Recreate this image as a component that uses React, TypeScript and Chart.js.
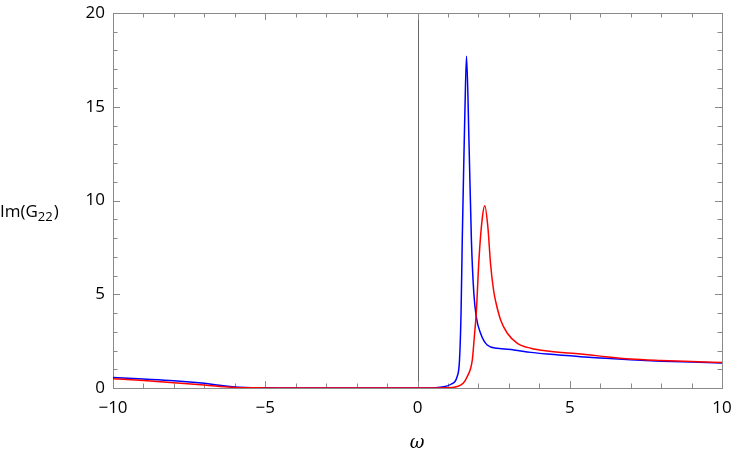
import React, { useEffect, useRef } from "react";
import { Chart, registerables } from "chart.js";

Chart.register(...registerables);

const redX = [-10, -9, -8, -7, -6, -5, -4, 0, 1, 1.3, 1.5, 1.63, 1.8, 1.87, 1.93, 2.02, 2.13, 2.21, 2.31, 2.4, 2.5, 2.57, 2.73, 2.95, 3.28, 3.72, 4.27, 5.36, 6, 7, 8, 9, 10];
const redY = [0.49, 0.4, 0.28, 0.16, 0.03, 0.005, 0, 0, 0.01, 0.08, 0.25, 0.6, 1.5, 2.8, 4.0, 6.9, 9.1, 9.72, 8.6, 6.6, 5.2, 4.6, 3.63, 2.92, 2.38, 2.12, 1.97, 1.81, 1.7, 1.55, 1.47, 1.41, 1.36];

const blueX = [-10, -9, -8, -7, -6.5, -6, -5, -4, 0, 0.6, 0.86, 1.1, 1.3, 1.38, 1.43, 1.47, 1.52, 1.56, 1.61, 1.69, 1.77, 1.85, 1.93, 2.07, 2.29, 2.62, 3.17, 3.72, 4.27, 5.36, 6, 7, 8, 9, 10];
const blueY = [0.56, 0.48, 0.39, 0.25, 0.15, 0.06, 0.01, 0, 0, 0.02, 0.07, 0.2, 0.6, 1.5, 4.0, 7.9, 12, 15, 17.7, 13.2, 7.9, 5.05, 3.8, 2.92, 2.29, 2.12, 2.03, 1.9, 1.81, 1.67, 1.6, 1.5, 1.43, 1.38, 1.33];

const xTicks = [-10, -5, 0, 5, 10];
const yTicks = [0, 5, 10, 15, 20];

const FONT = '"Open Sans", sans-serif';
const FRAME = "#8a8a8a";

const toPts = (xs: number[], ys: number[]) => xs.map((x, i) => ({ x, y: ys[i] }));
const fmt = (v: number) => (v < 0 ? "\u2212" + Math.abs(v) : String(v));

const framePlugin = {
  id: "framePlugin",
  beforeDatasetsDraw(chart: any) {
    const { ctx, chartArea: a, scales } = chart;
    const xs = scales.x;
    const ys = scales.y;
    ctx.save();
    ctx.strokeStyle = "#666";
    ctx.lineWidth = 1;
    const x0 = Math.round(xs.getPixelForValue(0)) + 0.5;
    ctx.beginPath();
    ctx.moveTo(x0, a.top);
    ctx.lineTo(x0, a.bottom);
    ctx.stroke();
    ctx.strokeStyle = FRAME;
    ctx.strokeRect(Math.round(a.left) + 0.5, Math.round(a.top) + 0.5, Math.round(a.right - a.left), Math.round(a.bottom - a.top));
    ctx.beginPath();
    for (let v = -10; v <= 10; v++) {
      const len = v % 5 === 0 ? 7 : 4.5;
      const px = Math.round(xs.getPixelForValue(v)) + 0.5;
      ctx.moveTo(px, a.bottom);
      ctx.lineTo(px, a.bottom - len);
      ctx.moveTo(px, a.top);
      ctx.lineTo(px, a.top + len);
    }
    for (let v = 0; v <= 20; v++) {
      const len = v % 5 === 0 ? 7 : 4.5;
      const py = Math.round(ys.getPixelForValue(v)) + 0.5;
      ctx.moveTo(a.left, py);
      ctx.lineTo(a.left + len, py);
      ctx.moveTo(a.right, py);
      ctx.lineTo(a.right - len, py);
    }
    ctx.stroke();
    ctx.restore();
  },
  afterDraw(chart: any) {
    const { ctx } = chart;
    ctx.save();
    ctx.fillStyle = "#000";
    ctx.textBaseline = "alphabetic";
    ctx.textAlign = "left";
    ctx.font = `17px ${FONT}`;
    let x = 0;
    const base = 217;
    ctx.fillText("Im(G", x, base);
    x += ctx.measureText("Im(G").width;
    ctx.font = `13px ${FONT}`;
    ctx.fillText("22", x, base + 4);
    x += ctx.measureText("22").width + 1;
    ctx.font = `17px ${FONT}`;
    ctx.fillText(")", x, base);
    ctx.font = `italic 18px "DejaVu Serif", serif`;
    ctx.textAlign = "center";
    ctx.fillText("\u03c9", 417, 448);
    ctx.restore();
  },
};

export default function App() {
  const ref = useRef<HTMLCanvasElement>(null);
  useEffect(() => {
    if (!ref.current) return;
    const chart = new Chart(ref.current, {
      type: "line",
      data: {
        datasets: [
          {
            label: "red",
            data: toPts(redX, redY),
            borderColor: "#ff0000",
            borderWidth: 1.5,
            pointRadius: 0,
            fill: false,
            cubicInterpolationMode: "monotone",
          },
          {
            label: "blue",
            data: toPts(blueX, blueY),
            borderColor: "#0000ff",
            borderWidth: 1.5,
            pointRadius: 0,
            fill: false,
            cubicInterpolationMode: "monotone",
          },
        ],
      },
      options: {
        responsive: false,
        animation: false,
        layout: { padding: { left: 0, right: 11, top: 13, bottom: 0 } },
        plugins: { legend: { display: false }, tooltip: { enabled: false } },
        scales: {
          x: {
            type: "linear",
            min: -10,
            max: 10,
            afterBuildTicks: (s: any) => {
              s.ticks = xTicks.map((v) => ({ value: v }));
            },
            afterFit: (s: any) => {
              s.height = 73;
              s.paddingLeft = 0;
              s.paddingRight = 0;
            },
            grid: { display: false, drawTicks: false },
            border: { display: false },
            ticks: {
              color: "#000",
              padding: 10,
              font: { family: FONT, size: 17 },
              callback: (v: any) => fmt(Number(v)),
              maxRotation: 0,
            },
          },
          y: {
            type: "linear",
            min: 0,
            max: 20,
            afterBuildTicks: (s: any) => {
              s.ticks = yTicks.map((v) => ({ value: v }));
            },
            afterFit: (s: any) => {
              s.width = 113;
              s.paddingTop = 0;
              s.paddingBottom = 0;
            },
            grid: { display: false, drawTicks: false },
            border: { display: false },
            ticks: {
              color: "#000",
              padding: 8,
              font: { family: FONT, size: 17 },
              callback: (v: any) => fmt(Number(v)),
            },
          },
        },
      },
      plugins: [framePlugin],
    });
    return () => chart.destroy();
  }, []);
  return (
    <div style={{ position: "absolute", left: 0, top: 0, width: 733, height: 461 }}>
      <canvas ref={ref} width={733} height={461} style={{ display: "block" }} />
    </div>
  );
}
